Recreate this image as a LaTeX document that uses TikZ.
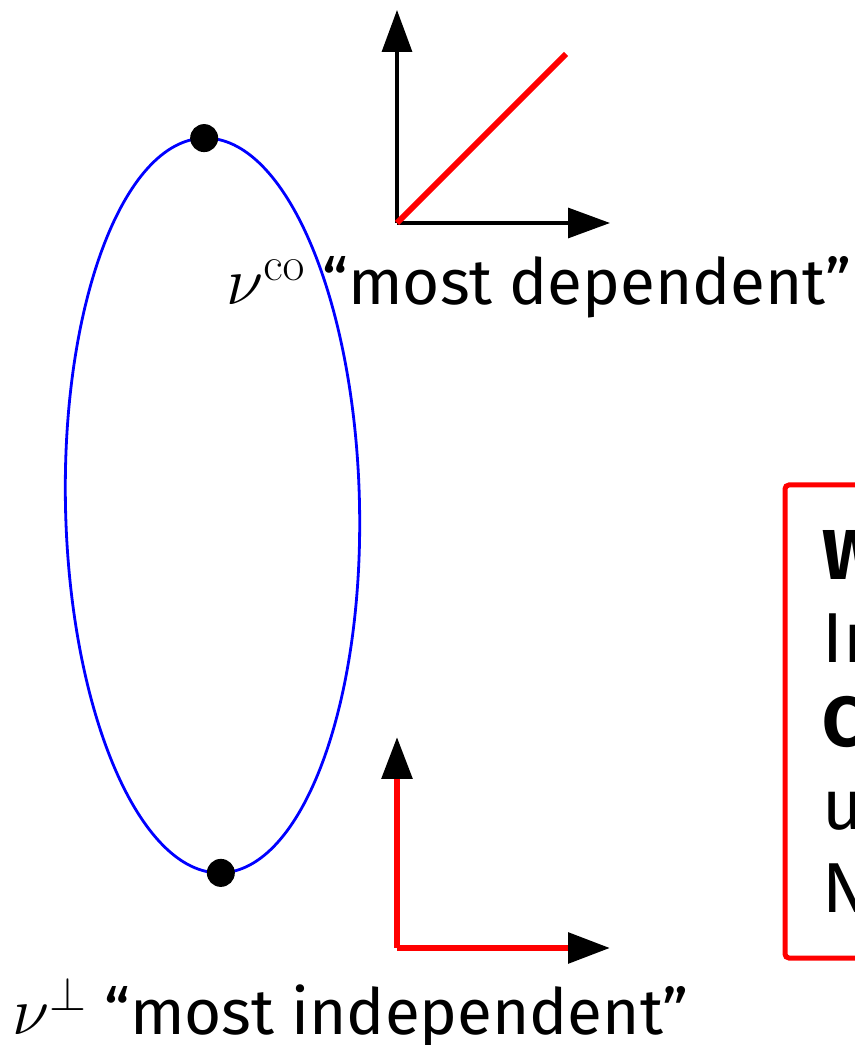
\documentclass[tikz,border=0pt]{standalone}
\usepackage{fix-cm}
\usepackage[no-math]{fontspec}
\setmainfont{Fira Sans}
\usetikzlibrary{arrows.meta}
\definecolor{curveBlue}{RGB}{0,0,255}
\definecolor{planRed}{RGB}{255,0,0}
\definecolor{inkBlack}{RGB}{0,0,0}
\newcommand{\measurename}[1]{{\fontsize{34}{40}\selectfont$#1$}}
\tikzset{
  axis arrow/.style={-{Triangle[length=21bp,width=15bp]},line width=1.6bp,draw=inkBlack},
  plan line/.style={line width=3bp,draw=planRed},
  plan arrow/.style={-{Triangle[length=21bp,width=15bp,color=inkBlack]},line width=3bp,draw=planRed},
  measure curve/.style={line width=1.4bp,draw=curveBlue},
  measure dot/.style={circle,fill=inkBlack,inner sep=0pt,minimum size=14bp},
  label text/.style={anchor=base west,inner sep=0pt,font=\fontsize{32}{38}\selectfont},
  note box/.style={draw=planRed,line width=2.5bp,rounded corners=2bp,anchor=north west,align=left,text width=200bp,minimum height=236.5bp,inner xsep=18.75bp,font=\fontsize{35.5}{41.75}\selectfont}
}
\begin{document}
\begin{tikzpicture}[x=0.5bp,y=0.5bp]
  \path[use as bounding box] (0,0) rectangle (855,1045);
  \clip (0,0) rectangle (855,1045);
  \begin{scope}[shift={(212.5,539.5)},rotate=1.3]
    \draw[measure curve] (0,0) ellipse [x radius=147,y radius=367.5];
    \node[measure dot] (co) at (0,367.5) {};
    \node[measure dot] (perp) at (0,-367.5) {};
  \end{scope}
  \coordinate (o1) at (397,822);
  \coordinate (y1) at (397,1035);
  \coordinate (x1) at (610,822);
  \coordinate (d1) at (566,991);
  \draw[axis arrow] (o1) -- (y1);
  \draw[axis arrow] (o1) -- (x1);
  \draw[plan line] (o1) -- (d1);
  \coordinate (o2) at (397,97);
  \coordinate (y2) at (397,308);
  \coordinate (x2) at (610,97);
  \draw[plan arrow] (o2) -- (y2);
  \draw[plan arrow] (o2) -- (x2);
  \node[label text] (colabel) at (226,740) {\measurename{\nu^{\mathrm{co}}} “most dependent”};
  \node[label text] (perplabel) at (12,10) {\measurename{\nu^{\perp}} “most independent”};
  \node[note box] (note) at (782.5,562.5) {\textbf{W}\\In\\\textbf{C}\\u\\N};
\end{tikzpicture}
\end{document}
